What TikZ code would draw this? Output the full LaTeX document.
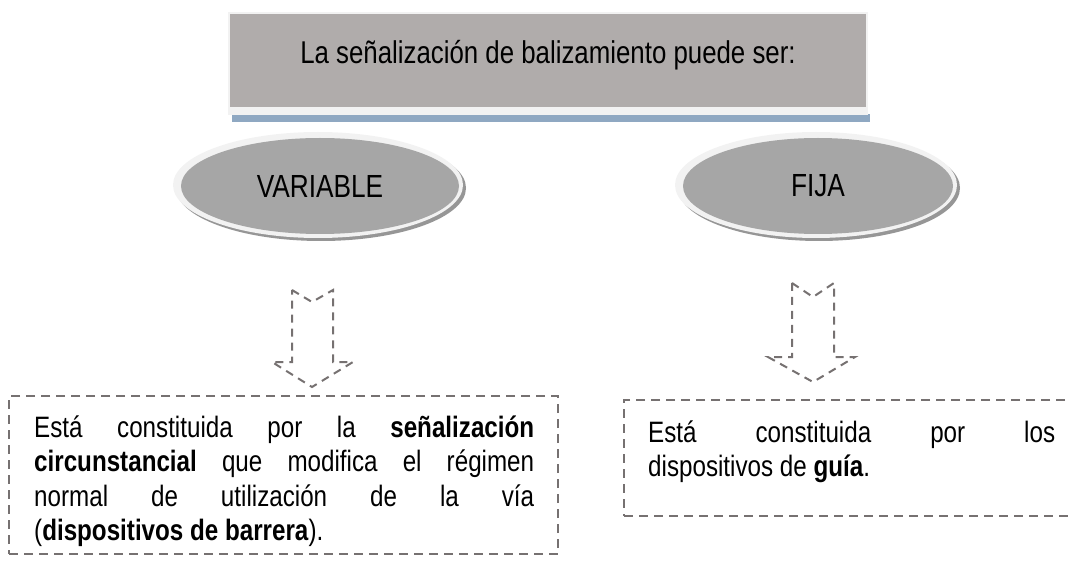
\documentclass[tikz,border=0pt]{standalone}
\usepackage{fontspec}
\setmainfont{Liberation Sans}[FakeStretch=0.82]
\usetikzlibrary{shapes.geometric}
\definecolor{boxgray}{RGB}{176,172,171}
\definecolor{ellgray}{RGB}{166,166,166}
\definecolor{dashgray}{RGB}{118,113,113}
\definecolor{shadowblue}{RGB}{143,168,194}
\definecolor{ringgray}{RGB}{242,242,242}
\definecolor{ellshadow}{RGB}{150,150,150}
\tolerance=10000 \hbadness=10000
\begin{document}
\begin{tikzpicture}[x=1pt,y=-1pt,
  titlebox/.style={fill=boxgray, minimum width=636pt, minimum height=93pt, inner sep=0pt,
    text height=22pt, text depth=16pt, font=\fontsize{31.5}{36}\selectfont},
  ovalnode/.style={ellipse, fill=ellgray, inner sep=0pt, font=\fontsize{32}{36}\selectfont},
  blockarrow/.style={draw=dashgray, line width=2pt, dash pattern=on 8pt off 6pt, line join=miter},
  dashbox/.style={draw=dashgray, line width=2pt, dash pattern=on 9pt off 6pt, inner sep=0pt},
  bodytext/.style={inner sep=0pt, align=justify, font=\fontsize{29.5}{34.5}\selectfont}
]
\useasboundingbox (0,0) rectangle (1069,572);
\clip (0,0) rectangle (1069,572);

% title box
\fill[shadowblue] (232,114) rectangle (870,122);
\fill[ringgray] (228,12) rectangle (868,115);
\node[titlebox] (title) at (548,60.5) {La señalización de balizamiento puede ser:};

% ovals
\fill[ellshadow] (321,188) ellipse [x radius=145, y radius=53];
\fill[ringgray] (318,185) ellipse [x radius=145, y radius=53];
\node[ovalnode, minimum width=278pt, minimum height=96pt] (var) at (320,186) {VARIABLE};

\fill[ellshadow] (819,188) ellipse [x radius=141, y radius=53];
\fill[ringgray] (816,185) ellipse [x radius=141, y radius=53];
\node[ovalnode, minimum width=270pt, minimum height=96pt] (fija) at (818,186) {FIJA};

% dashed block arrows
\draw[blockarrow] (292,290) -- (312,302) -- (333,290) -- (333,362) -- (353,362) -- (312,387) -- (272,362) -- (292,362) -- cycle;
\draw[blockarrow] (792,283) -- (813,297) -- (834,283) -- (834,357) -- (855,357) -- (813,382) -- (768,357) -- (792,357) -- cycle;

% text boxes
\node[dashbox, anchor=north west, minimum width=549pt, minimum height=158pt] (lbox) at (8,395) {};
\node[bodytext, anchor=base west, text width=500pt] (ltext) at (34,437)
  {Está constituida por la \textbf{señalización}\linebreak
   \textbf{circunstancial} que modifica el régimen\linebreak
   normal de utilización de la vía\linebreak
   (\textbf{dispositivos de barrera}).};

\node[dashbox, anchor=north west, minimum width=470pt, minimum height=116pt] (rbox) at (623,399) {};
\node[bodytext, anchor=base west, text width=407pt] (rtext) at (648,442)
  {Está constituida por los\linebreak
   dispositivos de \textbf{guía}.};
\end{tikzpicture}
\end{document}
